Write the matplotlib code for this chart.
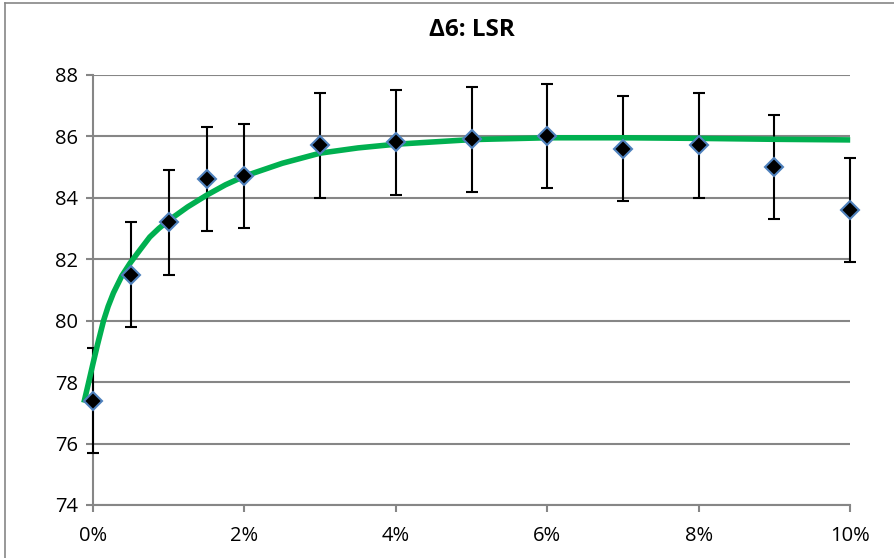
import numpy as np
import matplotlib.pyplot as plt
from matplotlib.ticker import FuncFormatter

# measured points (x in %)
x_pct = [0, 0.5, 1, 1.5, 2, 3, 4, 5, 6, 7, 8, 9, 10]
lsr = [77.4, 81.5, 83.2, 84.6, 84.7, 85.7, 85.8, 85.9, 86.0, 85.6, 85.7, 85.0, 83.6]
err = [1.7] * len(x_pct)

# trend line
trend_x = [-0.12, -0.06, 0, 0.06, 0.14, 0.2, 0.27, 0.38, 0.49, 0.62, 0.75,
           0.87, 1.0, 1.25, 1.5, 1.75, 2.0, 2.5, 3, 3.5, 4, 5, 6, 7, 8, 9, 10]
trend_y = [77.33, 77.96, 78.6, 79.22, 80.0, 80.46, 80.9, 81.45, 81.87, 82.3,
           82.72, 83.0, 83.26, 83.7, 84.08, 84.42, 84.7, 85.12, 85.45, 85.62,
           85.74, 85.89, 85.95, 85.95, 85.93, 85.9, 85.88]

plt.rcParams['font.family'] = ['Open Sans', 'DejaVu Sans']

fig = plt.figure(figsize=(8.94, 5.58), dpi=100)
ax = fig.add_axes([0.104, 0.095, 0.847, 0.771])

grid_col = '#868686'
ax.set_axisbelow(True)
ax.yaxis.grid(True, color=grid_col, lw=1.5)

ax.errorbar(x_pct, lsr, yerr=err, fmt='none', ecolor='black', elinewidth=1.5,
            capsize=4.5, capthick=1.5, clip_on=False, zorder=3)
ax.plot(trend_x, trend_y, color='#00B050', lw=4, solid_capstyle='butt',
        solid_joinstyle='round', clip_on=False, zorder=4)
ax.plot(x_pct, lsr, linestyle='none', marker='D', markersize=9,
        markerfacecolor='black', markeredgecolor='#4F81BD', markeredgewidth=1.5,
        clip_on=False, zorder=5)

ax.set_xlim(0, 10)
ax.set_ylim(74, 88)
ax.set_xticks(np.arange(0, 11, 2))
ax.set_yticks(np.arange(74, 89, 2))
ax.xaxis.set_major_formatter(FuncFormatter(lambda v, p: f'{v:.0f}%'))

for s in ['top', 'right']:
    ax.spines[s].set_visible(False)
for s in ['left', 'bottom']:
    ax.spines[s].set_color(grid_col)
    ax.spines[s].set_linewidth(1.5)
ax.tick_params(axis='both', colors=grid_col, width=1.5, length=5,
               labelcolor='black', labelsize=14.5)
ax.tick_params(axis='x', pad=10)
ax.tick_params(axis='y', pad=6)

ax.set_title('Δ6: LSR', fontsize=17.5, fontweight='bold', pad=28)

# outer chart border (left and top visible)
fig.add_artist(plt.Line2D([0.006, 0.006], [0, 0.995], color=grid_col, lw=1.2,
                          transform=fig.transFigure))
fig.add_artist(plt.Line2D([0.006, 1], [0.995, 0.995], color=grid_col, lw=1.2,
                          transform=fig.transFigure))

fig.savefig('out.png', dpi=100)
